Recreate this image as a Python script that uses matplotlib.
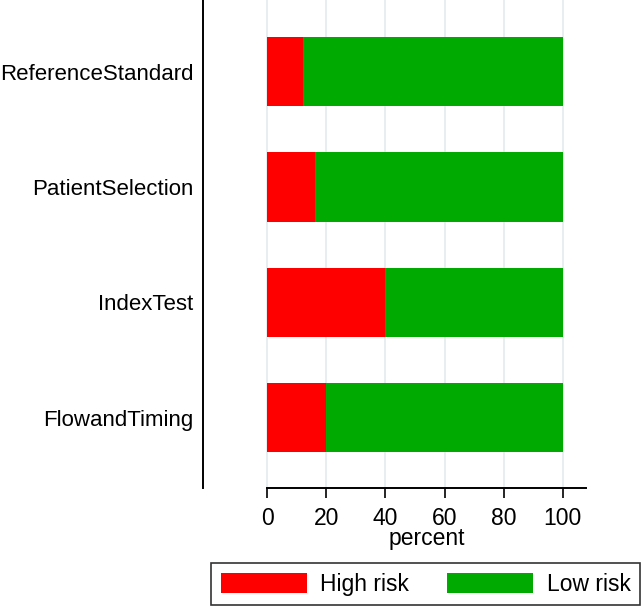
import matplotlib
matplotlib.use('Agg')
import matplotlib.pyplot as plt
import numpy as np

# data (percent)
domains = ['ReferenceStandard', 'PatientSelection', 'IndexTest', 'FlowandTiming']
high_risk = [12, 16, 40, 20]
low_risk = [100 - v for v in high_risk]
xticks = [0, 20, 40, 60, 80, 100]

RED = '#ff0000'
GREEN = '#00aa00'
GRID = '#e4eaee'

plt.rcParams['font.family'] = ['Liberation Sans', 'DejaVu Sans']

W, H = 643, 607
fig = plt.figure(figsize=(W / 100, H / 100), dpi=100)
ax = fig.add_axes([203 / W, 1 - 488 / H, (586 - 203) / W, 488 / H])

pos = np.arange(len(domains))
ax.barh(pos, high_risk, height=0.6, color=RED, label='High risk', zorder=3)
ax.barh(pos, low_risk, left=high_risk, height=0.6, color=GREEN,
        label='Low risk', zorder=3)

ax.set_xlim(-21.8, 107.9)
ax.set_ylim(3.61, -0.62)

for x in xticks:
    ax.axvline(x, color=GRID, lw=1.2, zorder=1)

fs = 16.5
ax.set_yticks(pos)
ax.set_yticklabels(domains, fontsize=16.0)
ax.tick_params(axis='y', length=0, pad=7)
ax.set_xticks(xticks)
ax.set_xticklabels([str(x) for x in xticks], fontsize=fs)
ax.tick_params(axis='x', length=7, width=1.2, pad=6.5, direction='out')

for s in ['top', 'right']:
    ax.spines[s].set_visible(False)
ax.spines['left'].set_linewidth(1.4)
ax.spines['bottom'].set_linewidth(1.4)
ax.spines['bottom'].set_bounds(0, 107.9)

fig.text(427 / W, 1 - 539 / H, 'percent', ha='center', va='center', fontsize=fs)

handles, labels = ax.get_legend_handles_labels()
leg = fig.legend(handles, labels, loc='upper left', ncol=2,
                 bbox_to_anchor=(211 / W, 1 - 563 / H),
                 borderaxespad=0, fontsize=fs, frameon=True, fancybox=False,
                 handlelength=3.75, handleheight=0.96, handletextpad=0.6,
                 columnspacing=1.65, borderpad=0.42)
leg.get_frame().set_edgecolor('black')
leg.get_frame().set_linewidth(1.2)

fig.savefig('out.png', dpi=100)
